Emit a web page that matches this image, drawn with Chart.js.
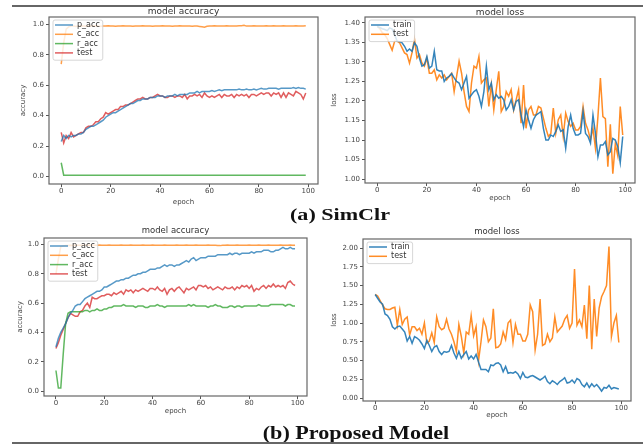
<!DOCTYPE html>
<html>
<head>
<meta charset="utf-8">
<title>model accuracy / model loss</title>
<script src="https://cdn.jsdelivr.net/npm/chart.js@4.4.0/dist/chart.umd.min.js"></script>
<style>
html, body { margin: 0; padding: 0; background: #fff; }
body { width: 643px; height: 448px; position: relative; overflow: hidden; font-family: "DejaVu Sans", sans-serif; }
.panel { position: absolute; overflow: hidden; }
.rule { position: absolute; left: 12px; right: 0; height: 2px; background: #666; }
.cap { position: absolute; width: 400px; text-align: center; font-family: "Liberation Serif", "Times New Roman", serif;
       font-weight: bold; color: #111; white-space: nowrap; line-height: 1; transform-origin: center; }
</style>
</head>
<body>
<div class="rule" style="top:5px"></div>
<div class="panel" style="left:0;top:6px;width:320px;height:200px"><canvas id="simAcc" width="335" height="200"></canvas></div>
<div class="panel" style="left:330px;top:6px;width:313px;height:196px"><canvas id="simLoss" width="313" height="196"></canvas></div>
<div class="cap" style="left:140px;top:206px;font-size:17px;transform:scaleX(1.3)">(a) SimClr</div>
<div class="panel" style="left:0;top:222px;width:320px;height:193px"><canvas id="propAcc" width="320" height="193"></canvas></div>
<div class="panel" style="left:325px;top:222px;width:318px;height:197px"><canvas id="propLoss" width="318" height="197"></canvas></div>
<div class="cap" style="left:156px;top:424px;font-size:18px;transform:scaleX(1.23)">(b) Proposed Model</div>
<div class="rule" style="top:442px"></div>

<script>
// epochs on the x axis
const epochs = [0,1,2,3,4,5,6,7,8,9,10,11,12,13,14,15,16,17,18,19,20,21,22,23,24,25,26,27,28,29,
  30,31,32,33,34,35,36,37,38,39,40,41,42,43,44,45,46,47,48,49,50,51,52,53,54,55,56,57,58,59,
  60,61,62,63,64,65,66,67,68,69,70,71,72,73,74,75,76,77,78,79,80,81,82,83,84,85,86,87,88,89,
  90,91,92,93,94,95,96,97,98,99];
const epochTicks = [0, 20, 40, 60, 80, 100];
const accTicks = [0.0, 0.2, 0.4, 0.6, 0.8, 1.0];
const simLossTicks = [1.00, 1.05, 1.10, 1.15, 1.20, 1.25, 1.30, 1.35, 1.40];
const propLossTicks = [0.00, 0.25, 0.50, 0.75, 1.00, 1.25, 1.50, 1.75, 2.00];

// (a) SimClr - accuracy
const simP = [0.23,0.27,0.25,0.27,0.26,0.27,0.27,0.28,0.28,0.29,
  0.31,0.32,0.33,0.33,0.34,0.35,0.36,0.37,0.39,0.40,
  0.41,0.42,0.42,0.43,0.44,0.45,0.46,0.47,0.48,0.48,
  0.49,0.50,0.50,0.51,0.51,0.51,0.52,0.52,0.52,0.53,
  0.53,0.53,0.52,0.53,0.53,0.53,0.54,0.53,0.54,0.54,
  0.54,0.54,0.55,0.55,0.55,0.56,0.55,0.56,0.56,0.56,
  0.56,0.565,0.56,0.565,0.57,0.565,0.57,0.57,0.57,0.57,
  0.57,0.57,0.575,0.57,0.57,0.575,0.57,0.57,0.575,0.57,
  0.575,0.58,0.575,0.575,0.58,0.58,0.58,0.58,0.575,0.58,
  0.58,0.58,0.58,0.58,0.585,0.58,0.585,0.58,0.58,0.575];
const simC = [0.74,0.88,0.97,0.985,0.99,0.99,0.988,0.99,0.991,0.99,
  0.989,0.99,0.991,0.99,0.992,0.99,0.989,0.991,0.99,0.992,
  0.99,0.991,0.989,0.99,0.99,0.992,0.99,0.991,0.99,0.989,
  0.991,0.99,0.99,0.992,0.99,0.991,0.99,0.989,0.99,0.991,
  0.99,0.992,0.99,0.991,0.99,0.989,0.991,0.99,0.993,0.99,
  0.99,0.991,0.99,0.989,0.991,0.99,0.988,0.986,0.983,0.989,
  0.991,0.99,0.992,0.99,0.991,0.99,0.99,0.992,0.991,0.99,
  0.991,0.99,0.992,0.993,0.996,0.99,0.991,0.99,0.992,0.99,
  0.991,0.99,0.99,0.992,0.991,0.99,0.992,0.99,0.991,0.99,
  0.992,0.991,0.99,0.991,0.99,0.992,0.99,0.99,0.991,0.993];
const simR = [0.09,0.008,0.008,0.008,0.008,0.008,0.008,0.008,0.008,0.008,
  0.008,0.008,0.008,0.008,0.008,0.008,0.008,0.008,0.008,0.008,
  0.008,0.008,0.008,0.008,0.008,0.008,0.008,0.008,0.008,0.008,
  0.008,0.008,0.008,0.008,0.008,0.008,0.008,0.008,0.008,0.008,
  0.008,0.008,0.008,0.008,0.008,0.008,0.008,0.008,0.008,0.008,
  0.008,0.008,0.008,0.008,0.008,0.008,0.008,0.008,0.008,0.008,
  0.008,0.008,0.008,0.008,0.008,0.008,0.008,0.008,0.008,0.008,
  0.008,0.008,0.008,0.008,0.008,0.008,0.008,0.008,0.008,0.008,
  0.008,0.008,0.008,0.008,0.008,0.008,0.008,0.008,0.008,0.008,
  0.008,0.008,0.008,0.008,0.008,0.008,0.008,0.008,0.008,0.008];
const simTest = [0.29,0.22,0.27,0.25,0.29,0.26,0.27,0.28,0.29,0.29,
  0.32,0.33,0.33,0.34,0.36,0.36,0.38,0.39,0.42,0.41,
  0.42,0.43,0.44,0.44,0.46,0.46,0.47,0.47,0.48,0.49,
  0.50,0.51,0.51,0.52,0.51,0.51,0.52,0.52,0.53,0.54,
  0.53,0.53,0.52,0.52,0.53,0.53,0.52,0.53,0.53,0.52,
  0.54,0.51,0.53,0.53,0.54,0.53,0.54,0.52,0.55,0.53,
  0.52,0.53,0.52,0.53,0.54,0.52,0.54,0.53,0.53,0.54,
  0.52,0.54,0.53,0.54,0.53,0.54,0.52,0.54,0.54,0.53,
  0.54,0.55,0.54,0.55,0.55,0.53,0.55,0.54,0.55,0.52,
  0.55,0.52,0.55,0.54,0.53,0.56,0.55,0.54,0.51,0.55];

// (a) SimClr - loss
const simTrainLoss = [1.390,1.388,1.385,1.383,1.380,1.387,1.384,1.370,1.353,1.352,
  1.349,1.340,1.327,1.333,1.327,1.349,1.340,1.310,1.289,1.293,
  1.314,1.284,1.289,1.327,1.280,1.277,1.277,1.250,1.259,1.263,
  1.270,1.259,1.250,1.246,1.229,1.246,1.263,1.207,1.216,1.224,
  1.229,1.212,1.186,1.224,1.289,1.229,1.246,1.203,1.216,1.207,
  1.212,1.203,1.177,1.186,1.203,1.177,1.199,1.203,1.164,1.134,
  1.177,1.152,1.130,1.152,1.164,1.168,1.173,1.130,1.100,1.100,
  1.113,1.109,1.122,1.139,1.122,1.126,1.079,1.135,1.164,1.130,
  1.113,1.113,1.117,1.173,1.117,1.109,1.092,1.164,1.117,1.057,
  1.087,1.087,1.096,1.062,1.070,1.104,1.100,1.083,1.042,1.109];
const simTestLoss = [1.392,1.385,1.375,1.370,1.360,1.345,1.330,1.353,1.353,1.349,
  1.336,1.323,1.319,1.297,1.323,1.359,1.310,1.319,1.297,1.289,
  1.310,1.271,1.271,1.280,1.254,1.267,1.259,1.267,1.254,1.263,
  1.271,1.224,1.263,1.302,1.271,1.224,1.186,1.173,1.246,1.289,
  1.284,1.314,1.246,1.254,1.259,1.186,1.242,1.177,1.229,1.276,
  1.173,1.186,1.224,1.212,1.229,1.177,1.203,1.229,1.143,1.241,
  1.130,1.177,1.186,1.164,1.164,1.186,1.182,1.156,1.130,1.109,
  1.117,1.182,1.117,1.152,1.164,1.109,1.169,1.147,1.135,1.143,
  1.126,1.126,1.135,1.186,1.143,1.126,1.100,1.130,1.079,1.160,
  1.259,1.160,1.155,1.032,1.140,1.014,1.090,1.060,1.186,1.113];

// (b) Proposed Model - accuracy
const propP = [0.30,0.36,0.40,0.43,0.46,0.50,0.53,0.55,0.58,0.59,
  0.59,0.61,0.63,0.64,0.65,0.66,0.67,0.68,0.68,0.69,
  0.71,0.71,0.72,0.73,0.74,0.75,0.75,0.76,0.76,0.77,
  0.77,0.78,0.79,0.79,0.80,0.80,0.81,0.81,0.82,0.83,
  0.83,0.83,0.84,0.84,0.85,0.86,0.85,0.86,0.86,0.85,
  0.86,0.86,0.87,0.88,0.89,0.88,0.90,0.91,0.89,0.90,
  0.91,0.91,0.91,0.92,0.92,0.92,0.92,0.93,0.93,0.93,
  0.93,0.93,0.94,0.93,0.94,0.94,0.93,0.94,0.94,0.94,
  0.94,0.95,0.94,0.95,0.95,0.95,0.96,0.96,0.96,0.95,
  0.95,0.96,0.96,0.97,0.98,0.97,0.97,0.98,0.97,0.97];
const propC = [0.80,0.90,0.985,0.99,0.992,0.993,0.994,0.993,0.994,0.995,
  0.994,0.995,0.994,0.995,0.996,0.995,0.994,0.995,0.996,0.995,
  0.994,0.995,0.996,0.995,0.994,0.995,0.995,0.996,0.995,0.994,
  0.995,0.996,0.995,0.995,0.994,0.995,0.996,0.995,0.994,0.995,
  0.996,0.995,0.995,0.994,0.995,0.996,0.995,0.994,0.995,0.995,
  0.996,0.995,0.994,0.995,0.996,0.995,0.995,0.994,0.996,0.995,
  0.995,0.994,0.995,0.996,0.995,0.994,0.995,0.993,0.992,0.994,
  0.995,0.996,0.995,0.994,0.995,0.996,0.995,0.994,0.995,0.995,
  0.996,0.995,0.994,0.995,0.996,0.995,0.994,0.995,0.996,0.995,
  0.995,0.994,0.995,0.996,0.995,0.994,0.995,0.996,0.995,0.995];
const propR = [0.14,0.02,0.02,0.25,0.46,0.53,0.54,0.54,0.54,0.54,
  0.54,0.54,0.55,0.55,0.54,0.55,0.55,0.56,0.55,0.55,
  0.56,0.56,0.57,0.57,0.58,0.58,0.58,0.58,0.59,0.58,
  0.58,0.58,0.58,0.57,0.58,0.58,0.58,0.57,0.57,0.58,
  0.58,0.58,0.59,0.58,0.58,0.57,0.58,0.58,0.58,0.58,
  0.58,0.58,0.58,0.58,0.58,0.59,0.58,0.59,0.58,0.58,
  0.58,0.58,0.58,0.57,0.58,0.58,0.59,0.58,0.58,0.57,
  0.57,0.57,0.58,0.58,0.57,0.58,0.58,0.57,0.58,0.58,
  0.58,0.58,0.58,0.58,0.59,0.58,0.58,0.58,0.58,0.59,
  0.59,0.59,0.59,0.59,0.59,0.58,0.59,0.59,0.58,0.58];
const propTest = [0.29,0.33,0.38,0.42,0.46,0.50,0.53,0.52,0.51,0.51,
  0.54,0.55,0.58,0.60,0.57,0.64,0.63,0.63,0.64,0.65,
  0.65,0.66,0.66,0.65,0.67,0.66,0.67,0.68,0.66,0.69,
  0.68,0.69,0.67,0.69,0.68,0.69,0.70,0.69,0.68,0.70,
  0.70,0.69,0.71,0.69,0.68,0.70,0.66,0.69,0.70,0.68,
  0.70,0.71,0.69,0.67,0.70,0.69,0.70,0.71,0.69,0.72,
  0.72,0.71,0.72,0.70,0.71,0.69,0.70,0.71,0.70,0.69,
  0.71,0.70,0.70,0.71,0.69,0.71,0.70,0.72,0.71,0.72,
  0.70,0.72,0.68,0.70,0.69,0.71,0.72,0.70,0.72,0.71,
  0.73,0.71,0.72,0.71,0.72,0.70,0.74,0.75,0.73,0.72];

// (b) Proposed Model - loss
const propTrainLoss = [1.38,1.33,1.28,1.25,1.12,1.10,1.05,0.95,0.92,0.95,
  0.96,0.92,0.88,0.76,0.82,0.73,0.82,0.80,0.77,0.72,
  0.66,0.77,0.70,0.62,0.68,0.70,0.62,0.58,0.62,0.61,
  0.62,0.70,0.60,0.53,0.62,0.53,0.58,0.62,0.52,0.56,
  0.52,0.58,0.48,0.38,0.38,0.38,0.35,0.44,0.43,0.46,
  0.47,0.44,0.35,0.42,0.33,0.34,0.33,0.35,0.32,0.26,
  0.34,0.28,0.27,0.29,0.30,0.28,0.26,0.24,0.26,0.29,
  0.22,0.19,0.23,0.21,0.18,0.22,0.24,0.27,0.20,0.21,
  0.24,0.20,0.26,0.24,0.18,0.15,0.20,0.14,0.19,0.15,
  0.18,0.14,0.09,0.14,0.13,0.17,0.12,0.14,0.13,0.12];
const propTestLoss = [1.38,1.36,1.30,1.24,1.19,1.18,1.18,1.20,1.21,0.97,
  1.18,0.98,1.05,1.08,0.84,0.95,0.95,0.90,0.93,0.85,
  1.00,0.73,0.76,0.87,0.74,1.08,0.95,0.91,0.93,1.05,
  0.92,0.85,0.75,0.62,0.98,0.82,0.60,0.88,0.85,1.10,
  0.83,0.95,0.50,0.75,1.04,0.95,0.75,0.80,1.19,0.67,
  0.68,0.72,0.88,0.78,1.00,1.04,0.74,0.98,0.85,0.85,
  0.76,0.76,0.85,1.24,1.15,0.64,0.85,1.32,0.70,0.72,
  0.85,0.75,0.80,1.08,0.88,0.92,0.96,1.05,1.10,0.93,
  1.00,1.72,0.97,1.04,0.95,1.24,0.79,1.50,0.65,1.32,
  0.82,1.20,1.35,1.42,1.50,2.02,0.82,1.00,1.10,0.74];

const BLUE = 'rgba(31,119,180,', ORANGE = 'rgba(255,127,14,', GREEN = 'rgba(44,160,44,', RED = 'rgba(214,39,40,';
const FONT = '"DejaVu Sans", sans-serif';
Chart.defaults.font.family = FONT;

// frame, title and in-axes legend, drawn the matplotlib way
const panelDeco = {
  id: 'panelDeco',
  afterDatasetsDraw(chart, args, opts) {
    const ctx = chart.ctx, a = chart.chartArea;
    ctx.save();
    ctx.strokeStyle = '#666';
    ctx.lineWidth = 1.2;
    ctx.strokeRect(a.left, a.top, a.right - a.left, a.bottom - a.top);

    ctx.fillStyle = '#333';
    ctx.font = opts.titleSize + 'px ' + FONT;
    ctx.textAlign = 'center';
    ctx.textBaseline = 'middle';
    ctx.fillText(opts.title, (a.left + a.right) / 2, a.top - opts.titleGap);

    const ds = chart.data.datasets;
    ctx.font = '8px ' + FONT;
    const textW = Math.max(...ds.map(d => ctx.measureText(d.label).width));
    const x0 = a.left + 4, y0 = a.top + 3, rowH = 9.3;
    const w = 24 + textW + 3, h = ds.length * rowH + 3;
    ctx.beginPath();
    if (ctx.roundRect) ctx.roundRect(x0, y0, w, h, 2); else ctx.rect(x0, y0, w, h);
    ctx.fillStyle = 'rgba(255,255,255,0.8)';
    ctx.fill();
    ctx.strokeStyle = '#ccc';
    ctx.lineWidth = 0.8;
    ctx.stroke();
    ds.forEach((d, i) => {
      const y = y0 + 5 + i * rowH;
      ctx.strokeStyle = d.borderColor;
      ctx.lineWidth = 1.5;
      ctx.beginPath();
      ctx.moveTo(x0 + 2, y);
      ctx.lineTo(x0 + 20, y);
      ctx.stroke();
      ctx.fillStyle = '#333';
      ctx.textAlign = 'left';
      ctx.fillText(d.label, x0 + 24, y);
    });
    ctx.restore();
  }
};

function makePanel(id, p) {
  const datasets = p.series.map(s => ({
    label: s.label, data: s.data, borderColor: s.color, borderWidth: 1.5,
    pointRadius: 0, tension: 0, fill: false
  }));
  new Chart(document.getElementById(id), {
    type: 'line',
    data: { labels: epochs, datasets: datasets },
    options: {
      responsive: false, animation: false, devicePixelRatio: 1,
      layout: { padding: p.padding },
      plugins: {
        legend: { display: false }, tooltip: { enabled: false }, title: { display: false },
        panelDeco: { title: p.title, titleSize: p.titleSize, titleGap: p.titleGap }
      },
      scales: {
        x: {
          type: 'linear', min: -4.95, max: 103.95,
          afterBuildTicks: s => { s.ticks = epochTicks.map(v => ({ value: v })); },
          afterFit: s => { s.height = p.xHeight; },
          ticks: { font: { size: 7 }, color: '#444', padding: 0, maxRotation: 0, autoSkip: false, callback: v => String(v) },
          grid: { drawOnChartArea: false, drawTicks: true, tickLength: 3, color: '#555' },
          border: { display: false },
          title: { display: true, text: 'epoch', font: { size: 7 }, color: '#444', padding: 0 }
        },
        y: {
          min: p.yMin, max: p.yMax,
          afterBuildTicks: s => { s.ticks = p.yTicks.map(v => ({ value: v })); },
          afterFit: s => { s.width = p.yWidth; },
          ticks: { font: { size: 7 }, color: '#444', padding: 2, callback: v => v.toFixed(p.decimals) },
          grid: { drawOnChartArea: false, drawTicks: true, tickLength: 3, color: '#555' },
          border: { display: false },
          title: { display: true, text: p.yTitle, font: { size: 7 }, color: '#444', padding: { top: p.yTitlePad, bottom: 0 } }
        }
      }
    },
    plugins: [panelDeco]
  });
}

makePanel('simAcc', {
  title: 'model accuracy', titleSize: 9, titleGap: 5, yTitle: 'accuracy', yTitlePad: 4,
  padding: { left: 15, top: 11, right: 17, bottom: 0 }, yWidth: 34, xHeight: 22,
  yMin: -0.05, yMax: 1.05, yTicks: accTicks, decimals: 1,
  series: [
    { label: 'p_acc', data: simP, color: BLUE + '0.75)' },
    { label: 'c_acc', data: simC, color: ORANGE + '0.75)' },
    { label: 'r_acc', data: simR, color: GREEN + '0.75)' },
    { label: 'test', data: simTest, color: RED + '0.75)' }
  ]
});

makePanel('simLoss', {
  title: 'model loss', titleSize: 9, titleGap: 4, yTitle: 'loss', yTitlePad: 0,
  padding: { left: 0, top: 11, right: 8, bottom: 0 }, yWidth: 35, xHeight: 19,
  yMin: 0.99, yMax: 1.415, yTicks: simLossTicks, decimals: 2,
  series: [
    { label: 'train', data: simTrainLoss, color: BLUE + '0.9)' },
    { label: 'test', data: simTestLoss, color: ORANGE + '0.9)' }
  ]
});

makePanel('propAcc', {
  title: 'model accuracy', titleSize: 8.5, titleGap: 7, yTitle: 'accuracy', yTitlePad: 4,
  padding: { left: 12, top: 16, right: 13, bottom: 0 }, yWidth: 32, xHeight: 19,
  yMin: -0.034, yMax: 1.044, yTicks: accTicks, decimals: 1,
  series: [
    { label: 'p_acc', data: propP, color: BLUE + '0.75)' },
    { label: 'c_acc', data: propC, color: ORANGE + '0.75)' },
    { label: 'r_acc', data: propR, color: GREEN + '0.75)' },
    { label: 'test', data: propTest, color: RED + '0.75)' }
  ]
});

makePanel('propLoss', {
  title: 'model loss', titleSize: 8.5, titleGap: 7, yTitle: 'loss', yTitlePad: 4,
  padding: { left: 1, top: 17, right: 12, bottom: 0 }, yWidth: 37, xHeight: 18,
  yMin: -0.04, yMax: 2.12, yTicks: propLossTicks, decimals: 2,
  series: [
    { label: 'train', data: propTrainLoss, color: BLUE + '0.9)' },
    { label: 'test', data: propTestLoss, color: ORANGE + '0.9)' }
  ]
});
</script>
</body>
</html>
